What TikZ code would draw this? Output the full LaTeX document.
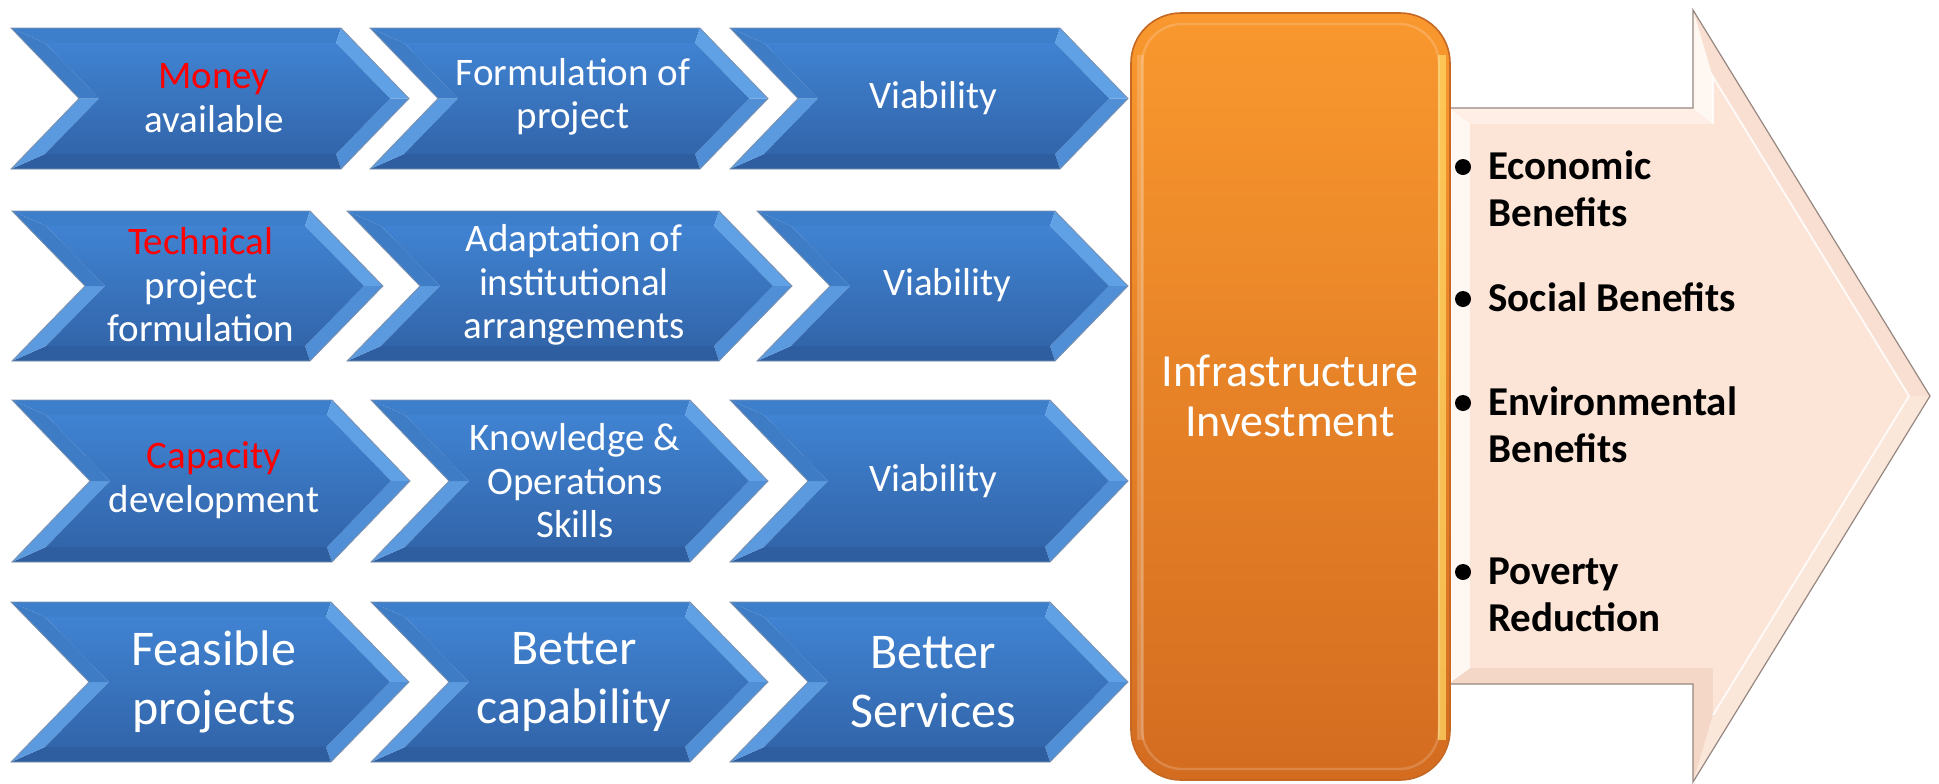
\documentclass[tikz,border=0pt]{standalone}
\usepackage{fontspec}
\setmainfont{Carlito}
\definecolor{chtop}{RGB}{64,131,210}
\definecolor{chbot}{RGB}{50,101,170}
\definecolor{chfA}{RGB}{62,127,204}
\definecolor{chfB}{RGB}{96,160,228}
\definecolor{chfC}{RGB}{80,142,214}
\definecolor{chfD}{RGB}{46,94,160}
\definecolor{chfE}{RGB}{92,154,224}
\definecolor{chfF}{RGB}{62,124,198}
\definecolor{chline}{RGB}{125,145,172}
\definecolor{ortop}{RGB}{249,152,46}
\definecolor{orbot}{RGB}{212,108,32}
\definecolor{orline}{RGB}{196,104,36}
\definecolor{oryel}{RGB}{255,214,100}
\definecolor{pch}{RGB}{252,228,214}
\definecolor{pchA}{RGB}{254,238,229}
\definecolor{pchB}{RGB}{255,247,242}
\definecolor{pchC}{RGB}{249,223,209}
\definecolor{pchD}{RGB}{251,230,218}
\definecolor{pchE}{RGB}{245,215,199}
\definecolor{pchline}{RGB}{150,135,128}
\definecolor{redtxt}{RGB}{255,0,0}
\newcommand{\chevron}[5]{%
  \pgfmathsetmacro{\chL}{#1}%
  \pgfmathsetmacro{\chR}{#2}%
  \pgfmathsetmacro{\chT}{#3}%
  \pgfmathsetmacro{\chB}{#4}%
  \pgfmathsetmacro{\chC}{(#3+#4)/2}%
  \pgfmathsetmacro{\chK}{#2-#5}%
  \pgfmathsetmacro{\chN}{#1+#5}%
  \fill[chfA] (\chL,\chT) -- (\chK,\chT) -- ({\chK-5},{\chT+15}) -- ({\chL+34},{\chT+15}) -- cycle;
  \fill[chfB] (\chK,\chT) -- (\chR,\chC) -- ({\chR-19},\chC) -- ({\chK-5},{\chT+15}) -- cycle;
  \fill[chfC] (\chR,\chC) -- (\chK,\chB) -- ({\chK-5},{\chB-15}) -- ({\chR-19},\chC) -- cycle;
  \fill[chfD] (\chK,\chB) -- (\chL,\chB) -- ({\chL+34},{\chB-15}) -- ({\chK-5},{\chB-15}) -- cycle;
  \fill[chfE] (\chL,\chB) -- (\chN,\chC) -- ({\chN+20},\chC) -- ({\chL+34},{\chB-15}) -- cycle;
  \fill[chfF] (\chN,\chC) -- (\chL,\chT) -- ({\chL+34},{\chT+15}) -- ({\chN+20},\chC) -- cycle;
  \shade[top color=chtop,bottom color=chbot] ({\chL+34},{\chT+15}) -- ({\chK-5},{\chT+15}) -- ({\chR-19},\chC) -- ({\chK-5},{\chB-15}) -- ({\chL+34},{\chB-15}) -- ({\chN+20},\chC) -- cycle;
  \draw[chline,line width=0.4pt,line join=miter] (\chL,\chT) -- (\chK,\chT) -- (\chR,\chC) -- (\chK,\chB) -- (\chL,\chB) -- (\chN,\chC) -- cycle;
}
\tikzset{
  ctext/.style={text=white,align=center,inner sep=0pt,font=\fontsize{19.5}{21.75}\selectfont},
  btext/.style={text=white,align=center,inner sep=0pt,font=\fontsize{25}{29.5}\selectfont},
  itext/.style={text=white,align=center,inner sep=0pt,font=\fontsize{23}{25}\selectfont},
  rtext/.style={text=black,anchor=base west,inner sep=0pt,font=\bfseries\fontsize{20.5}{23.5}\selectfont},
  bullet/.style={circle,fill=black,inner sep=0pt,minimum size=8pt}
}
\begin{document}
\begin{tikzpicture}[x=0.5pt,y=-0.5pt]
\useasboundingbox (0,0) rectangle (1939,783);
\fill[white] (0,0) rectangle (1939,783);

% ---------- big peach arrow ----------
\fill[pchA] (1448,108) -- (1693,108) -- (1713,124) -- (1470,124) -- cycle;
\fill[pchB] (1693,108) -- (1693,10) -- (1713,77) -- (1713,124) -- cycle;
\fill[pchC] (1693,10) -- (1930,396) -- (1909,396) -- (1713,77) -- cycle;
\fill[pchD] (1930,396) -- (1693,782) -- (1713,715) -- (1909,396) -- cycle;
\fill[pchE] (1693,782) -- (1693,684) -- (1713,668) -- (1713,715) -- cycle;
\fill[pchE] (1693,684) -- (1448,684) -- (1470,668) -- (1713,668) -- cycle;
\fill[pchB] (1448,684) -- (1448,108) -- (1470,124) -- (1470,668) -- cycle;
\fill[pch] (1470,124) -- (1713,124) -- (1713,77) -- (1909,396) -- (1713,715) -- (1713,668) -- (1470,668) -- cycle;
\draw[white,opacity=0.8,line width=1pt] (1713,124) -- (1713,77) -- (1909,396) -- (1713,715);
\draw[pchline,line width=0.6pt,line join=miter] (1448,108) -- (1693,108) -- (1693,10) -- (1930,396) -- (1693,782) -- (1693,684) -- (1448,684);

% ---------- orange box ----------
\shade[top color=ortop,bottom color=orbot,rounded corners=25pt] (1131,13) rectangle (1450,780);
\fill[oryel,opacity=0.75] (1438,55) rectangle (1446,740);
\fill[white,opacity=0.18] (1137,55) rectangle (1144,740);
\draw[white,opacity=0.18,line width=1.2pt,rounded corners=20pt] (1142,24) rectangle (1439,769);
\draw[orline,line width=0.8pt,rounded corners=25pt] (1131,13) rectangle (1450,780);
\node[itext] (inv) at (1290,396) {Infrastructure\\Investment};

% ---------- chevrons ----------
% row 1
\chevron{11}{409}{28}{169}{68}
\chevron{370}{768}{28}{169}{68}
\chevron{730}{1128}{28}{169}{68}
% row 2
\chevron{12}{383}{211}{361}{73}
\chevron{347}{792}{211}{361}{73}
\chevron{757}{1128}{211}{361}{73}
% row 3
\chevron{12}{410}{400}{562}{78}
\chevron{371}{768}{400}{562}{78}
\chevron{730}{1128}{400}{562}{78}
% row 4
\chevron{11}{409}{602}{762}{78}
\chevron{371}{768}{602}{762}{78}
\chevron{730}{1128}{602}{762}{78}

% ---------- chevron texts ----------
\node[ctext] (r1a) at (214,98) {\textcolor{redtxt}{Money}\\available};
\node[ctext] (r1b) at (573,97) {Formulation of\\project};
\node[ctext] (r1c) at (933,98) {Viability};
\node[ctext] (r2a) at (201,285) {\textcolor{redtxt}{Technical}\\project\\formulation};
\node[ctext] (r2b) at (574,285) {Adaptation of\\institutional\\arrangements};
\node[ctext] (r2c) at (947,285) {Viability};
\node[ctext] (r3a) at (214,480) {\textcolor{redtxt}{Capacity}\\development};
\node[ctext] (r3b) at (575,481) {Knowledge \&\\Operations\\Skills};
\node[ctext] (r3c) at (933,481) {Viability};
\node[btext] (r4a) at (214,682) {Feasible\\projects};
\node[btext] (r4b) at (574,682) {Better\\capability};
\node[btext] (r4c) at (933,682) {Better\\Services};

% ---------- benefits list ----------
\node[bullet] (b1) at (1463,167) {};
\node[rtext] (t1a) at (1488,179) {Economic};
\node[rtext] (t1b) at (1488,226) {Benefits};
\node[bullet] (b2) at (1463,299) {};
\node[rtext] (t2a) at (1488,311) {Social Benefits};
\node[bullet] (b3) at (1463,403) {};
\node[rtext] (t3a) at (1488,415) {Environmental};
\node[rtext] (t3b) at (1488,462) {Benefits};
\node[bullet] (b4) at (1463,572) {};
\node[rtext] (t4a) at (1488,584) {Poverty};
\node[rtext] (t4b) at (1488,631) {Reduction};
\end{tikzpicture}
\end{document}
